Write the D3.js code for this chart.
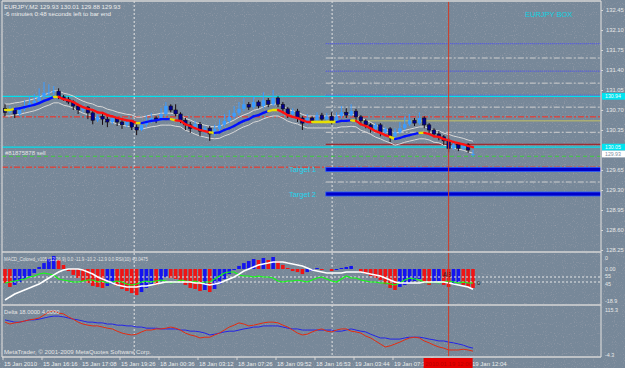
<!DOCTYPE html>
<html>
<head>
<meta charset="utf-8">
<script src="https://cdn.jsdelivr.net/npm/d3@7"></script>
<style>
  body { margin: 0; background: #778899; }
  svg { display: block; }
  text { font-family: "Liberation Sans", Arial, sans-serif; }
</style>
</head>
<body>
<svg id="chart" width="625" height="368"></svg>
<script>
// ---- data ----
const opens = [130.73,130.66,130.70,130.63,130.72,130.77,130.82,130.86,130.93,131.00,
  131.01,131.03,130.93,130.89,130.84,130.77,130.70,130.75,130.65,130.52,
  130.59,130.54,130.49,130.56,130.49,130.44,130.51,130.40,130.35,130.44,
  130.51,130.56,130.52,130.63,130.77,130.70,130.63,130.52,130.44,130.38,
  130.45,130.33,130.38,130.28,130.37,130.44,130.51,130.58,130.65,130.72,
  130.80,130.75,130.84,130.77,130.87,130.80,130.91,130.80,130.72,130.63,
  130.68,130.56,130.47,130.56,130.52,130.61,130.54,130.59,130.51,130.59,
  130.66,130.61,130.68,130.58,130.51,130.44,130.37,130.44,130.31,130.37,
  130.24,130.31,130.38,130.45,130.52,130.47,130.56,130.44,130.35,130.28,
  130.23,130.16,130.03,130.10,130.03,130.09,129.93];
const highs = [130.80,130.77,130.73,130.75,130.87,130.94,130.98,131.08,131.19,131.15,
  131.12,131.08,130.96,130.93,130.87,130.80,130.79,130.77,130.68,130.63,
  130.63,130.58,130.59,130.58,130.52,130.54,130.52,130.45,130.49,130.61,
  130.65,130.59,130.73,130.84,130.80,130.80,130.66,130.56,130.49,130.51,
  130.49,130.42,130.42,130.44,130.54,130.63,130.70,130.77,130.84,130.91,
  130.84,130.94,130.87,131.01,130.91,131.05,130.94,130.84,130.75,130.73,
  130.72,130.59,130.63,130.59,130.66,130.65,130.65,130.66,130.66,130.77,
  130.73,130.80,130.72,130.61,130.54,130.47,130.47,130.47,130.40,130.40,
  130.38,130.49,130.58,130.63,130.56,130.66,130.59,130.47,130.38,130.33,
  130.26,130.21,130.14,130.14,130.12,130.12,130.01];
const lows = [130.59,130.63,130.56,130.59,130.68,130.73,130.79,130.82,130.89,130.93,
  130.94,130.89,130.86,130.80,130.70,130.63,130.66,130.54,130.45,130.49,
  130.44,130.40,130.45,130.42,130.37,130.40,130.35,130.26,130.33,130.40,
  130.47,130.47,130.51,130.59,130.66,130.59,130.47,130.35,130.30,130.35,
  130.24,130.28,130.16,130.24,130.33,130.40,130.47,130.54,130.61,130.68,
  130.70,130.72,130.73,130.73,130.75,130.77,130.75,130.66,130.56,130.59,
  130.49,130.35,130.44,130.47,130.49,130.51,130.51,130.45,130.47,130.56,
  130.56,130.58,130.52,130.45,130.38,130.30,130.33,130.24,130.28,130.14,
  130.21,130.28,130.35,130.42,130.42,130.44,130.38,130.30,130.23,130.17,
  130.09,129.96,130.00,129.98,130.00,129.95,129.88];
const closes = [130.66,130.70,130.63,130.72,130.77,130.82,130.86,130.93,131.00,131.01,
  131.03,130.93,130.89,130.84,130.77,130.70,130.75,130.65,130.52,130.59,
  130.54,130.49,130.56,130.49,130.44,130.51,130.40,130.35,130.44,130.51,
  130.56,130.52,130.63,130.77,130.70,130.63,130.52,130.44,130.38,130.45,
  130.33,130.38,130.28,130.37,130.44,130.51,130.58,130.65,130.72,130.80,
  130.75,130.84,130.77,130.87,130.80,130.91,130.80,130.72,130.63,130.68,
  130.56,130.47,130.56,130.52,130.61,130.54,130.59,130.51,130.59,130.66,
  130.61,130.68,130.58,130.51,130.44,130.37,130.44,130.31,130.37,130.24,
  130.31,130.38,130.45,130.52,130.47,130.56,130.44,130.35,130.28,130.23,
  130.16,130.03,130.10,130.03,130.09,130.00,129.93];

// colored moving average and its trend colour (Y flat, B up, R down)
const maValues = [130.70,130.70,130.72,130.73,130.75,130.77,130.79,130.82,130.86,130.89,
  130.93,130.93,130.89,130.87,130.84,130.79,130.75,130.72,130.70,130.66,
  130.65,130.61,130.59,130.56,130.54,130.52,130.51,130.47,130.47,130.49,
  130.51,130.52,130.54,130.54,130.54,130.52,130.51,130.45,130.42,130.38,
  130.35,130.33,130.31,130.30,130.31,130.35,130.38,130.42,130.47,130.51,
  130.54,130.59,130.61,130.65,130.68,130.70,130.70,130.66,130.61,130.58,
  130.56,130.52,130.49,130.49,130.49,130.49,130.49,130.49,130.49,130.51,
  130.51,130.52,130.51,130.45,130.42,130.38,130.33,130.30,130.26,130.23,
  130.19,130.21,130.24,130.26,130.28,130.30,130.30,130.28,130.24,130.23,
  130.19,130.17,130.14,130.12,130.10,130.07,130.05];
const maTrend = ("YYYBBBBBBBBYRRRRRRRRRRRRRRRRYBBBBBBYRRRRRRRYBBBBBBBBBBBYY" +
  "RRRRRRRYYYYYBBBYRRRRRRRYBBBBBYRRRRRRRRRR").split("");
const envelopeDeviation = 0.08; // percent

// MACD window
const macdHist = [-8.3,-10.6,-9.4,-7.7,-5.9,-4.1,-2.4,1.2,3.5,5.9,
  7.7,5.3,2.4,-1.2,-3.5,-5.3,-7.1,-8.3,-10.0,-10.6,
  -11.2,-10.0,-8.9,-10.0,-11.8,-13.0,-14.2,-15.4,-13.6,-11.2,
  -8.9,-9.4,-7.1,-4.7,-5.3,-5.9,-7.7,-9.4,-11.2,-11.8,
  -13.0,-12.4,-13.6,-11.8,-8.9,-5.9,-3.0,-0.6,1.8,3.5,
  4.7,5.9,5.3,6.5,5.3,7.1,4.7,2.4,0.6,-1.2,
  -1.8,-3.0,-1.8,-1.2,0.6,-0.6,0,-1.2,-0.6,0.6,
  1.2,1.8,0,-1.8,-3.0,-4.1,-5.3,-6.5,-8.9,-11.2,
  -12.4,-10.6,-9.4,-8.3,-7.1,-5.9,-8.3,-9.4,-8.3,-7.1,
  -9.4,-10.6,-8.9,-7.7,-9.4,-10.6,-11.2];
const macdMain = [-18.3,-16.5,-14.8,-13.6,-12.4,-11.2,-10.0,-8.9,-7.1,-5.3,
  -3.5,-1.8,-0.6,0,0,0,-0.6,-1.8,-3.0,-4.7,
  -5.9,-7.1,-8.3,-9.4,-10.0,-10.6,-10.6,-10.6,-10.0,-10.0,
  -9.4,-8.9,-8.3,-7.7,-7.7,-7.7,-7.7,-7.7,-7.7,-8.3,
  -8.3,-8.9,-9.4,-8.9,-8.3,-7.1,-5.9,-4.7,-3.0,-1.2,
  0,1.2,2.4,3.0,3.5,4.1,4.1,4.1,3.5,3.0,
  2.4,1.8,0.6,-0.6,-1.2,-1.8,-2.4,-2.4,-2.4,-2.4,
  -1.8,-1.8,-1.8,-1.8,-2.4,-3.0,-3.5,-4.1,-5.3,-6.5,
  -7.7,-8.3,-8.3,-8.3,-8.3,-8.3,-7.7,-7.7,-7.7,-7.7,
  -7.7,-8.3,-8.9,-9.4,-10.0,-10.6,-11.9];
const rsiValues = [43,45,47,49,51,55,57,61,63,61,
  59,51,49,47,45,45,47,49,49,45,
  47,43,45,47,45,41,39,41,45,47,
  45,47,49,47,43,45,49,47,45,47,
  43,45,45,51,57,63,65,65,59,57,
  57,55,57,55,55,53,47,45,47,47,
  49,47,45,49,53,55,51,47,45,51,
  57,53,53,49,47,45,45,43,43,41,
  39,43,49,53,51,49,45,43,45,43,
  45,47,45,43,45,43,43];

// Delta window
const deltaBlue = [89,86,83,83,86,89,89,91,94,97,
  99,99,97,94,91,89,86,83,83,81,
  81,78,78,75,75,73,73,70,70,67,
  67,67,65,65,65,65,62,62,59,59,
  57,54,49,51,54,57,59,59,62,65,
  67,70,70,73,73,73,73,70,67,65,
  65,62,62,62,62,62,62,62,59,59,
  62,65,62,59,57,51,46,41,41,38,
  38,38,41,43,43,43,41,38,36,33,
  33,30,28,25,22,17,14];
const deltaRed = [83,78,81,83,86,89,91,94,102,110,
  113,107,105,97,91,83,78,75,73,73,
  70,67,65,59,54,51,49,51,57,62,
  62,65,65,67,70,67,62,54,49,46,
  41,43,43,49,54,62,70,75,81,78,
  73,75,78,81,83,83,81,75,70,62,
  54,49,51,57,62,65,59,57,62,65,
  65,59,57,54,46,41,33,25,17,20,
  25,30,36,41,43,41,33,28,22,17,
  14,9,9,9,11,9,6];

// axes
const priceTicks = [132.45,132.10,131.75,131.40,131.05,130.70,130.35,129.65,129.30,128.95,128.60,128.25];
const timeLabels = ["15 Jan 2010","15 Jan 16:16","15 Jan 17:08","15 Jan 19:26","18 Jan 00:36","18 Jan 03:12",
  "18 Jan 07:26","18 Jan 09:52","18 Jan 16:53","19 Jan 03:44","19 Jan 07:38","","19 Jan 12:04"];
const barsPerLabel = 8;

// chart objects
const cyanLevels = [130.94, 130.05];
const bidPrice = 129.93;
const redDashLevels = [130.58, 129.70];
const greenDashLevel = 129.89;
const boxStartBar = 65.8;
const boxBlueLevels = [131.86, 131.38, 130.96];
const boxGrayLevels = [131.61, 131.17, 130.75, 130.31, 129.44];
const boxOliveLevel = 130.51;
const boxDarkRedLevel = 130.10;
const targetLevels = [129.66, 129.23];
const targetNames = ["Target 1", "Target 2"];
const separatorBars = [26.5, 67.1];
const cursorBar = 91;
const cursorLabel = "2010.01.19 12:00";

// ---- drawing ----
const svg = d3.select("#chart");
const L = 2, R = 601;
const mainTop = 1, mainBot = 252, macdBot = 305, deltaBot = 357;
const n = closes.length;

const x = d3.scaleLinear().domain([0, n - 1]).range([5, 473]);
const y = d3.scaleLinear().domain([128.25, 132.45]).range([250, 10]);
const yMacd = d3.scaleLinear().domain([-18.9, 0]).range([301, 269]);
const yRsi = d3.scaleLinear().domain([45, 55]).range([282, 277]);
const yDelta = d3.scaleLinear().domain([-4.3, 115.3]).range([355, 310]);

const defs = svg.append("defs");
defs.append("clipPath").attr("id", "clipMain")
  .append("rect").attr("x", L).attr("y", mainTop).attr("width", R - L).attr("height", mainBot - mainTop);
defs.append("clipPath").attr("id", "clipMacd")
  .append("rect").attr("x", L).attr("y", mainBot).attr("width", R - L).attr("height", macdBot - mainBot);
defs.append("clipPath").attr("id", "clipDelta")
  .append("rect").attr("x", L).attr("y", macdBot).attr("width", R - L).attr("height", deltaBot - macdBot);

// speckled background, like the dithered original
const grain = defs.append("filter").attr("id", "grain").attr("x", 0).attr("y", 0).attr("width", 1).attr("height", 1);
grain.append("feTurbulence").attr("type", "fractalNoise").attr("baseFrequency", 0.9).attr("numOctaves", 1).attr("seed", 3);
grain.append("feColorMatrix").attr("values", "0 0 0 0 0.62  0 0 0 0 0.52  0 0 0 0 0.56  0 0 0 2.2 -1.25");

svg.append("rect").attr("width", 625).attr("height", 368).attr("fill", "#778899");
svg.append("rect").attr("width", 625).attr("height", 368).attr("filter", "url(#grain)").attr("opacity", 0.55);

// vertical separators (all panels)
svg.append("g").selectAll("line").data(separatorBars).join("line")
    .attr("x1", d => x(d)).attr("x2", d => x(d))
    .attr("y1", mainTop).attr("y2", deltaBot)
    .attr("stroke", "#e4e4e4").attr("stroke-dasharray", "2,2");

// main panel
const main = svg.append("g").attr("clip-path", "url(#clipMain)");

function hline(g, level, x0, color, width, dash) {
  g.append("line")
      .attr("x1", x0).attr("x2", R)
      .attr("y1", y(level)).attr("y2", y(level))
      .attr("stroke", color).attr("stroke-width", width)
      .attr("stroke-dasharray", dash);
}

const bx = x(boxStartBar);
boxBlueLevels.forEach(v => hline(main, v, bx, "#4848ff", 1, "1,1"));
boxGrayLevels.forEach(v => hline(main, v, bx, "#cfcfcf", 1, "6,2,2,2"));
hline(main, boxOliveLevel, bx, "#c4c060", 1, null);
hline(main, boxDarkRedLevel, bx, "#a81414", 1, null);
redDashLevels.forEach(v => hline(main, v, L, "#ff2a1a", 1, "6,2,2,2"));
hline(main, greenDashLevel, L, "#3ccc3c", 1, "4,3");
cyanLevels.forEach(v => hline(main, v, L, "#00e0ee", 1.2, null));

targetLevels.forEach((v, k) => {
  main.append("rect")
      .attr("x", bx).attr("width", R - bx)
      .attr("y", y(v) - 2).attr("height", 4)
      .attr("fill", "#0000c8").attr("stroke", "#2a5cff").attr("stroke-width", 0.8);
  main.append("text")
      .attr("x", 316).attr("y", y(v) + 3)
      .attr("text-anchor", "end")
      .attr("font-size", 7.5).attr("fill", "#22d4ee")
      .text(targetNames[k]);
});

// envelopes
const envUp = d3.line().x((d, i) => x(i)).y(d => y(d * (1 + envelopeDeviation / 100)));
const envDn = d3.line().x((d, i) => x(i)).y(d => y(d * (1 - envelopeDeviation / 100)));
main.append("path").attr("d", envUp(maValues)).attr("fill", "none").attr("stroke", "#d8d8d8").attr("stroke-width", 1);
main.append("path").attr("d", envDn(maValues)).attr("fill", "none").attr("stroke", "#d8d8d8").attr("stroke-width", 1);

// candles
const bars = d3.range(n).map(i => ({ i, o: opens[i], h: highs[i], l: lows[i], c: closes[i] }));
const candle = main.append("g").selectAll("g").data(bars).join("g");
candle.append("line")
    .attr("x1", d => x(d.i)).attr("x2", d => x(d.i))
    .attr("y1", d => y(d.h)).attr("y2", d => y(d.l))
    .attr("stroke", d => d.c >= d.o ? "#3c9cff" : "#1a0c10")
    .attr("stroke-width", 1);
candle.append("rect")
    .attr("x", d => x(d.i) - 1.7).attr("width", 3.4)
    .attr("y", d => y(Math.max(d.o, d.c)))
    .attr("height", d => Math.max(1, y(Math.min(d.o, d.c)) - y(Math.max(d.o, d.c))))
    .attr("fill", d => d.c >= d.o ? "#3c9cff" : "#000090")
    .attr("stroke", d => d.c >= d.o ? "none" : "#10101a")
    .attr("stroke-width", 0.6);

// colored MA
const trendColor = { Y: "#e8e000", B: "#0010ff", R: "#ff1010" };
main.append("g").selectAll("line").data(d3.range(1, n)).join("line")
    .attr("x1", i => x(i - 1)).attr("x2", i => x(i))
    .attr("y1", i => y(maValues[i - 1])).attr("y2", i => y(maValues[i]))
    .attr("stroke", i => trendColor[maTrend[i]])
    .attr("stroke-width", 2.3).attr("stroke-linecap", "round");

// texts in main panel
main.append("text").attr("x", 4).attr("y", 9).attr("font-size", 6.2).attr("fill", "#ececec")
  .text("EURJPY,M2  129.93 130.01 129.88 129.93");
main.append("text").attr("x", 4).attr("y", 16).attr("font-size", 6.2).attr("fill", "#ececec")
  .text("-6 minutes 0:48 seconds left to bar end");
main.append("text").attr("x", 525).attr("y", 17).attr("font-size", 7.5).attr("fill", "#10d0e0")
  .text("EURJPY BOX");
main.append("text").attr("x", 5).attr("y", 155).attr("font-size", 6).attr("fill", "#e4e4e4")
  .text("#81875878 sell");

// MACD panel
const macd = svg.append("g").attr("clip-path", "url(#clipMacd)");
macd.selectAll("rect").data(macdHist).join("rect")
    .attr("x", (d, i) => x(i) - 1.8).attr("width", 3.6)
    .attr("y", d => Math.min(yMacd(d), yMacd(0)))
    .attr("height", d => Math.abs(yMacd(d) - yMacd(0)))
    .attr("fill", (d, i) => i > 0 && d > macdHist[i - 1] ? "#1414f0" : "#f01414");
[55, 45].forEach(v => {
  macd.append("line").attr("x1", L).attr("x2", R).attr("y1", yRsi(v)).attr("y2", yRsi(v))
    .attr("stroke", "#e8e8e8").attr("stroke-dasharray", "2,2");
});
macd.append("path")
    .attr("d", d3.line().x((d, i) => x(i)).y(d => yRsi(d))(rsiValues))
    .attr("fill", "none").attr("stroke", "#10ff10").attr("stroke-width", 1.2);
macd.append("path")
    .attr("d", d3.line().x((d, i) => x(i)).y(d => yMacd(d))(macdMain))
    .attr("fill", "none").attr("stroke", "#ffffff").attr("stroke-width", 1.6);
macd.append("text").attr("x", 4).attr("y", 261).attr("font-size", 5.5).attr("fill", "#e4e4e4")
  .attr("textLength", 144).attr("lengthAdjust", "spacingAndGlyphs")
  .text("MACD_Colored_v105 (12,26,9) 0.0 -11.9 -10.2 -12.9 0.0  RSI(10) 43.0475");
macd.append("text").attr("x", x(n - 1) + 4).attr("y", yRsi(rsiValues[n - 1]) + 2)
  .attr("font-size", 6).attr("fill", "#202020").text("0");
macd.append("text").attr("x", x(cursorBar) - 6).attr("y", 277)
  .attr("font-size", 6.5).attr("fill", "#401010").text("AB");

// Delta panel
const delta = svg.append("g").attr("clip-path", "url(#clipDelta)");
delta.append("path")
    .attr("d", d3.line().x((d, i) => x(i)).y(d => yDelta(d))(deltaBlue))
    .attr("fill", "none").attr("stroke", "#2424e8").attr("stroke-width", 1);
delta.append("path")
    .attr("d", d3.line().x((d, i) => x(i)).y(d => yDelta(d))(deltaRed))
    .attr("fill", "none").attr("stroke", "#e42c10").attr("stroke-width", 1);
delta.append("text").attr("x", 4).attr("y", 314).attr("font-size", 5.8).attr("fill", "#e4e4e4")
  .text("Delta 18.0000 4.0000");
delta.append("text").attr("x", 4).attr("y", 354).attr("font-size", 5.8).attr("fill", "#e4e4e4")
  .attr("textLength", 147).attr("lengthAdjust", "spacingAndGlyphs")
  .text("MetaTrader, © 2001-2009 MetaQuotes Software Corp.");

// cursor line on top
svg.append("line")
    .attr("x1", x(cursorBar)).attr("x2", x(cursorBar))
    .attr("y1", mainTop).attr("y2", deltaBot)
    .attr("stroke", "#d23a24").attr("stroke-width", 1);

// panel frames
const frame = svg.append("g").attr("stroke", "#d6d6d6").attr("fill", "none");
[mainTop, mainBot, macdBot, deltaBot].forEach(v => {
  frame.append("line").attr("x1", L).attr("x2", R).attr("y1", v).attr("y2", v).attr("stroke-width", 1.6);
});
frame.append("line").attr("x1", L).attr("x2", L).attr("y1", mainTop).attr("y2", deltaBot).attr("stroke-width", 1.2);
frame.append("line").attr("x1", R).attr("x2", R).attr("y1", mainTop).attr("y2", deltaBot).attr("stroke-width", 1.2);

// price axis
const priceAxis = svg.append("g").attr("transform", `translate(${R},0)`)
    .call(d3.axisRight(y).tickValues(priceTicks).tickFormat(d3.format(".2f")).tickSize(2).tickPadding(3));
priceAxis.select(".domain").remove();
priceAxis.selectAll("line").attr("stroke", "#d6d6d6");
priceAxis.selectAll("text").attr("font-size", 5.8).attr("fill", "#e8e8e8")
    .attr("font-family", "'Liberation Sans', Arial, sans-serif");

// price label boxes
function priceBox(v, fill, textColor) {
  svg.append("rect").attr("x", R + 1).attr("y", y(v) - 3.4).attr("width", 23).attr("height", 6.8).attr("fill", fill);
  svg.append("text").attr("x", R + 4).attr("y", y(v) + 2).attr("font-size", 5.2).attr("fill", textColor)
    .text(d3.format(".2f")(v));
}
cyanLevels.forEach(v => priceBox(v, "#00e4f0", "#f4ffff"));
priceBox(bidPrice, "#ffffff", "#8090a0");

// MACD / Delta scale labels
const sideLabels = [
  { t: "0", yy: 260 }, { t: "0.00", yy: yMacd(0) + 2 }, { t: "55", yy: yRsi(55) + 1 },
  { t: "45", yy: yRsi(45) + 3.5 }, { t: "-18.9", yy: yMacd(-18.9) + 2 },
  { t: "115.3", yy: yDelta(115.3) + 2 }, { t: "-4.3", yy: yDelta(-4.3) + 2 }
];
svg.append("g").selectAll("text").data(sideLabels).join("text")
    .attr("x", R + 4).attr("y", d => d.yy)
    .attr("font-size", 5.4).attr("fill", "#e8e8e8")
    .text(d => d.t);

// time axis
const tg = svg.append("g");
timeLabels.forEach((t, k) => {
  const xi = x(k * barsPerLabel) - 2;
  tg.append("line").attr("x1", xi).attr("x2", xi).attr("y1", deltaBot).attr("y2", deltaBot + 3)
    .attr("stroke", "#d6d6d6");
  tg.append("text").attr("x", xi + 1).attr("y", 366).attr("font-size", 6).attr("fill", "#ececec").text(t);
});
const cx = x(cursorBar);
tg.append("rect").attr("x", cx - 25).attr("y", deltaBot + 1).attr("width", 49).attr("height", 10).attr("fill", "#e60000");
tg.append("text").attr("x", cx).attr("y", 366).attr("text-anchor", "middle")
  .attr("font-size", 6).attr("fill", "#b80000").text(cursorLabel);
</script>
</body>
</html>
